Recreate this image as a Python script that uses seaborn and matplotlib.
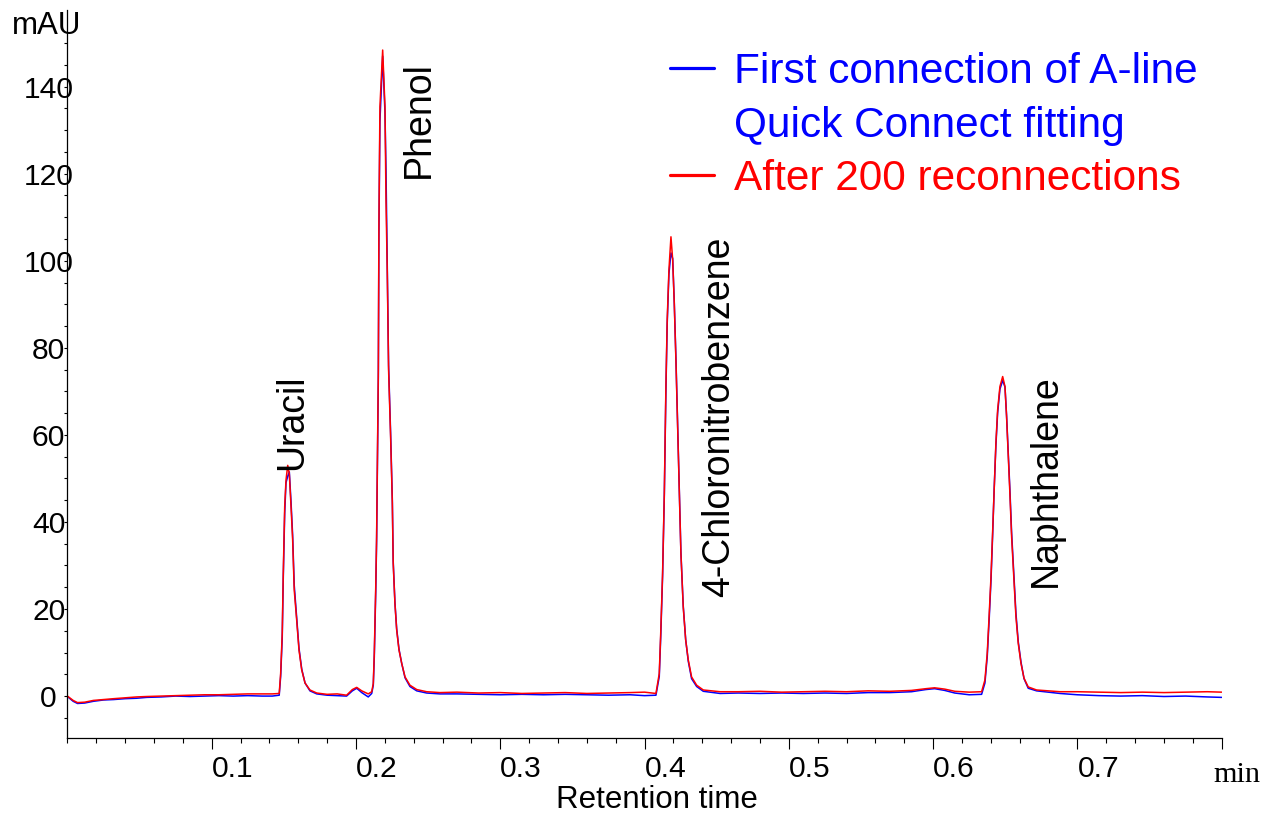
import pandas as pd
import matplotlib
matplotlib.use("Agg")
import matplotlib.pyplot as plt
import seaborn as sns
from matplotlib.lines import Line2D
from matplotlib.ticker import MultipleLocator, FixedLocator

# ---- Data ----
time_min = [
    0.000, 0.004, 0.007, 0.012, 0.018, 0.025, 0.032, 0.040, 0.048, 0.055,
    0.065, 0.075, 0.085, 0.095, 0.105, 0.115, 0.125, 0.135, 0.142,
    # Uracil
    0.1468, 0.1478, 0.1489, 0.1496, 0.1506, 0.1515, 0.1527, 0.1538, 0.1550,
    0.1561, 0.1572, 0.1589, 0.1605, 0.1624, 0.1647, 0.1681, 0.1728, 0.180, 0.187,
    # small bump
    0.1935, 0.1975, 0.2005, 0.2040, 0.2085,
    # Phenol
    0.2109, 0.2120, 0.2127, 0.2137, 0.2143, 0.2155, 0.2159, 0.2166, 0.2185,
    0.2201, 0.2208, 0.2217, 0.2226, 0.2240, 0.2252, 0.2258, 0.2270, 0.2282,
    0.2298, 0.2317, 0.2340, 0.2374, 0.2421, 0.2490, 0.2582,
    0.270, 0.285, 0.300, 0.315, 0.330, 0.345, 0.360, 0.375, 0.390, 0.400, 0.4079,
    # 4-Chloronitrobenzene
    0.4102, 0.4112, 0.4125, 0.4137, 0.4148, 0.4157, 0.4169, 0.4183, 0.4195,
    0.4206, 0.4218, 0.4229, 0.4240, 0.4252, 0.4268, 0.4285, 0.4303, 0.4326,
    0.4361, 0.4407, 0.4523,
    0.465, 0.480, 0.495, 0.510, 0.525, 0.540, 0.555, 0.570, 0.585,
    0.595, 0.601, 0.608, 0.615, 0.625, 0.6336,
    # Naphthalene
    0.6359, 0.6375, 0.6389, 0.6401, 0.6412, 0.6423, 0.6435, 0.6447, 0.6463,
    0.6482, 0.6498, 0.6509, 0.6520, 0.6532, 0.6544, 0.6560, 0.6574, 0.6590,
    0.6609, 0.6630, 0.6659, 0.6717, 0.6879,
    0.700, 0.715, 0.730, 0.745, 0.760, 0.775, 0.790, 0.800,
]

# red trace: after 200 reconnections
after_200 = [
    0.0, -1.0, -1.5, -1.4, -1.0, -0.8, -0.6, -0.4, -0.2, -0.1,
    0.0, 0.1, 0.2, 0.3, 0.3, 0.4, 0.5, 0.5, 0.5,
    0.6, 5.2, 14.5, 28.0, 43.5, 49.6, 53.0, 51.0, 43.5,
    36.0, 24.4, 17.5, 10.6, 6.0, 3.0, 1.4, 0.7, 0.4, 0.5,
    0.2, 1.5, 2.0, 1.2, 0.5,
    1.0, 2.9, 9.9, 25.1, 36.6, 74.9, 108.7, 135.4, 148.4,
    135.4, 114.0, 97.2, 74.9, 59.6, 44.3, 30.5, 21.3, 15.2,
    10.6, 7.5, 4.4, 2.5, 1.5, 1.0, 0.8,
    0.9, 0.7, 0.8, 0.6, 0.7, 0.8, 0.6, 0.7, 0.8, 0.9, 0.6,
    5.2, 14.4, 28.2, 46.6, 71.1, 86.4, 97.9, 105.5, 100.2,
    90.2, 76.4, 61.9, 48.1, 32.8, 20.5, 12.9, 8.3, 4.4,
    2.5, 1.4, 1.0,
    1.0, 1.1, 0.9, 1.0, 1.1, 1.0, 1.2, 1.1, 1.3,
    1.7, 1.9, 1.6, 1.1, 0.9, 1.0,
    3.7, 9.8, 19.0, 27.4, 37.4, 48.1, 58.1, 65.7, 71.1,
    73.4, 71.1, 64.2, 55.8, 46.6, 36.6, 26.7, 18.2, 12.1,
    7.5, 4.1, 2.1, 1.4, 1.0,
    1.0, 0.9, 0.8, 0.9, 0.8, 0.9, 1.0, 0.9,
]

# blue trace: first connection
first_conn = [
    -0.1, -1.2, -1.7, -1.6, -1.2, -0.9, -0.8, -0.6, -0.5, -0.3,
    -0.2, 0.0, -0.1, 0.0, 0.1, 0.0, 0.1, 0.0, 0.0,
    0.2, 4.5, 13.5, 27.0, 42.0, 49.0, 50.5, 51.5, 44.5,
    37.0, 25.5, 18.0, 11.0, 6.2, 3.0, 1.2, 0.5, 0.2, 0.1,
    0.0, 1.2, 1.8, 0.8, -0.2,
    0.6, 2.5, 9.0, 24.0, 35.5, 73.0, 106.0, 132.0, 147.0,
    134.0, 121.0, 98.0, 76.0, 60.5, 45.0, 31.0, 21.5, 15.5,
    10.8, 7.5, 4.2, 2.2, 1.2, 0.7, 0.5,
    0.5, 0.4, 0.3, 0.4, 0.3, 0.4, 0.3, 0.2, 0.3, 0.1, 0.2,
    4.5, 13.5, 27.5, 46.0, 70.0, 85.5, 97.0, 101.8, 100.5,
    90.5, 77.0, 62.5, 48.5, 33.0, 20.8, 13.0, 8.0, 4.0,
    2.2, 1.1, 0.6,
    0.7, 0.6, 0.7, 0.6, 0.7, 0.6, 0.8, 0.8, 1.0,
    1.5, 1.7, 1.3, 0.7, 0.3, 0.4,
    3.0, 9.0, 18.0, 26.5, 36.5, 47.5, 57.5, 65.0, 70.5,
    72.5, 71.0, 64.5, 56.5, 47.5, 37.5, 27.5, 19.0, 12.5,
    7.8, 4.0, 1.8, 1.2, 0.6,
    0.3, 0.1, 0.0, 0.1, -0.1, 0.0, -0.2, -0.3,
]

peak_names = ["Uracil", "Phenol", "4-Chloronitrobenzene", "Naphthalene"]
peak_label_x = [0.1556, 0.2437, 0.4516, 0.6780]
peak_label_y = [52.0, 119.0, 22.7, 25.0]

legend_labels = ["First connection of A-line", "Quick Connect fitting", "After 200 reconnections"]
legend_colors = ["blue", "blue", "red"]

x_major = [0.1, 0.2, 0.3, 0.4, 0.5, 0.6, 0.7, 0.8]
x_tick_labels = ["0.1", "0.2", "0.3", "0.4", "0.5", "0.6", "0.7", ""]
y_major = [0, 20, 40, 60, 80, 100, 120, 140]

df = pd.DataFrame({"time": time_min, "first": first_conn, "after": after_200})

# ---- Style ----
sns.set_style("ticks", rc={"axes.edgecolor": "black", "xtick.color": "black",
                           "ytick.color": "black", "text.color": "black"})
plt.rcParams["font.family"] = ["Liberation Sans", "DejaVu Sans"]

W, H = 1264, 814
fig = plt.figure(figsize=(W / 100, H / 100), dpi=100)
ax = fig.add_axes([67.4 / W, 1 - 738.3 / H, (1221.7 - 67.4) / W, (738.3 - 10) / H])

sns.lineplot(data=df, x="time", y="first", color="blue", lw=1.1, ax=ax)
sns.lineplot(data=df, x="time", y="after", color="red", lw=1.1, ax=ax)

ax.set_xlim(0, 0.8)
ax.set_ylim(-9.7, 157.6)
ax.set_xlabel("")
ax.set_ylabel("")
sns.despine(ax=ax)
for s in ["left", "bottom"]:
    ax.spines[s].set_linewidth(0.9)

ax.xaxis.set_major_locator(FixedLocator(x_major))
ax.set_xticklabels(x_tick_labels)
ax.xaxis.set_minor_locator(MultipleLocator(0.02))
ax.yaxis.set_major_locator(FixedLocator(y_major))
ax.yaxis.set_minor_locator(FixedLocator(list(range(-5, 151, 5))))

ax.tick_params(axis="x", which="major", direction="out", length=8, width=0.8, labelsize=21.6, pad=4)
ax.tick_params(axis="x", which="minor", direction="out", length=3.6, width=0.8)
ax.tick_params(axis="y", which="both", direction="out", length=2, width=0.8)
ax.tick_params(axis="y", which="major", labelsize=21.6, pad=11.5)
plt.setp(ax.get_xticklabels(), ha="left")
plt.setp(ax.get_yticklabels(), ha="center")

# ---- Peak names ----
for name, px, py in zip(peak_names, peak_label_x, peak_label_y):
    ax.text(px, py, name, rotation=90, ha="center", va="bottom", fontsize=27)

# ---- Legend ----
handles = [Line2D([], [], color="blue", lw=2.3),
           Line2D([], [], color="none"),
           Line2D([], [], color="red", lw=2.3)]
leg = ax.legend(handles, legend_labels, loc="upper left",
                bbox_to_anchor=(670 / W, 1 - 52 / H), bbox_transform=fig.transFigure,
                frameon=False, fontsize=30.5, handlelength=1.05, handletextpad=0.47,
                labelspacing=0.32, borderpad=0, borderaxespad=0)
for txt, c in zip(leg.get_texts(), legend_colors):
    txt.set_color(c)

# ---- Axis titles ----
fig.text(12 / W, 1 - 26 / H, "mAU", ha="left", va="center", fontsize=22.5)
fig.text(657 / W, 1 - 800 / H, "Retention time", ha="center", va="center", fontsize=22.5)
fig.text(1213 / W, 1 - 775 / H, "min", ha="left", va="center", fontsize=21.7,
         family=["Liberation Serif", "DejaVu Serif"])

fig.savefig("out.png", dpi=100)
